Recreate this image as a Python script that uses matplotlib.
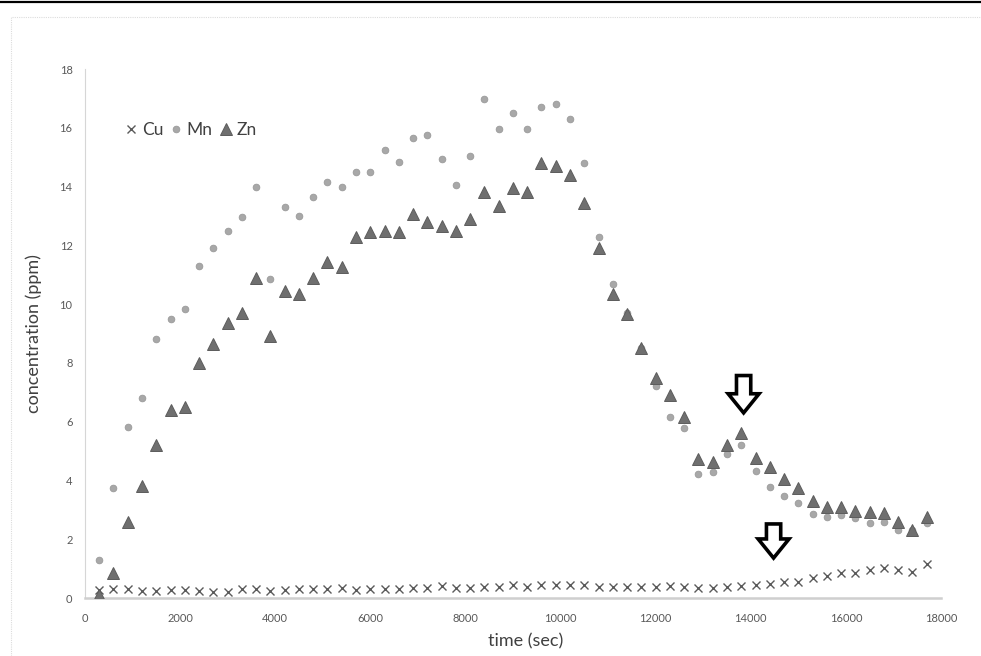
import matplotlib.pyplot as plt
from matplotlib.patches import FancyArrow, Rectangle
from matplotlib.lines import Line2D

# sampling times (sec)
time_sec = [300, 600, 900, 1200, 1500, 1800, 2100, 2400, 2700, 3000,
            3300, 3600, 3900, 4200, 4500, 4800, 5100, 5400, 5700, 6000,
            6300, 6600, 6900, 7200, 7500, 7800, 8100, 8400, 8700, 9000,
            9300, 9600, 9900, 10200, 10500, 10800, 11100, 11400, 11700, 12000,
            12300, 12600, 12900, 13200, 13500, 13800, 14100, 14400, 14700, 15000,
            15300, 15600, 15900, 16200, 16500, 16800, 17100, 17400, 17700]

# concentrations (ppm)
cu = [0.27, 0.30, 0.30, 0.25, 0.25, 0.26, 0.26, 0.25, 0.21, 0.22,
      0.32, 0.32, 0.25, 0.26, 0.30, 0.30, 0.30, 0.35, 0.27, 0.30,
      0.29, 0.29, 0.35, 0.35, 0.41, 0.35, 0.35, 0.38, 0.38, 0.44,
      0.38, 0.44, 0.44, 0.44, 0.44, 0.38, 0.38, 0.38, 0.38, 0.38,
      0.40, 0.39, 0.33, 0.33, 0.39, 0.42, 0.44, 0.48, 0.53, 0.56,
      0.69, 0.75, 0.86, 0.86, 0.94, 1.03, 0.94, 0.90, 1.15]

mn = [1.30, 3.75, 5.83, 6.80, 8.80, 9.50, 9.85, 11.30, 11.90, 12.50,
      12.95, 14.00, 10.85, 13.30, 13.00, 13.65, 14.15, 14.00, 14.50, 14.50,
      15.25, 14.85, 15.65, 15.75, 14.95, 14.05, 15.05, 16.98, 15.95, 16.50,
      15.95, 16.70, 16.80, 16.30, 14.80, 12.30, 10.67, 9.70, 8.50, 7.20,
      6.17, 5.80, 4.23, 4.30, 4.90, 5.20, 4.33, 3.78, 3.48, 3.23,
      2.86, 2.75, 2.83, 2.73, 2.56, 2.60, 2.30, 2.30, 2.56]

zn = [0.10, 0.85, 2.60, 3.80, 5.20, 6.40, 6.50, 8.00, 8.65, 9.35,
      9.70, 10.90, 8.90, 10.45, 10.35, 10.90, 11.45, 11.25, 12.30, 12.45,
      12.48, 12.44, 13.05, 12.80, 12.65, 12.48, 12.90, 13.80, 13.35, 13.95,
      13.80, 14.80, 14.70, 14.40, 13.45, 11.90, 10.36, 9.68, 8.50, 7.50,
      6.90, 6.17, 4.73, 4.64, 5.20, 5.62, 4.77, 4.45, 4.05, 3.75,
      3.30, 3.10, 3.10, 2.97, 2.93, 2.90, 2.60, 2.32, 2.76]

# arrows pointing at features: (time, top, tip)
arrows = [(13850, 7.57, 6.30), (14480, 2.52, 1.36)]

x_ticks = [0, 2000, 4000, 6000, 8000, 10000, 12000, 14000, 16000, 18000]
y_ticks = [0, 2, 4, 6, 8, 10, 12, 14, 16, 18]

plt.rcParams['font.family'] = ['Lato', 'DejaVu Sans']

fig = plt.figure(figsize=(9.81, 6.56), dpi=100)
ax = fig.add_axes([0.0866, 0.0884, 0.8726, 0.8064])

ax.plot(time_sec, cu, linestyle='none', marker='x', markersize=5.5,
        markeredgewidth=1.0, color='#5a5a5a', label='Cu', zorder=3)
ax.plot(time_sec, mn, linestyle='none', marker='o', markersize=4.8,
        markeredgewidth=0.6, markerfacecolor='#a8a8a8',
        markeredgecolor='#9a9a9a', label='Mn', zorder=4)
ax.plot(time_sec, zn, linestyle='none', marker='^', markersize=8.5,
        markeredgewidth=0.7, markerfacecolor='#6f6f6f',
        markeredgecolor='#5c5c5c', label='Zn', zorder=5)

# hollow block arrows
for t, top, tip in arrows:
    ax.add_patch(FancyArrow(t, top, 0, tip - top,
                            width=300, head_width=650, head_length=0.65,
                            length_includes_head=True, facecolor='white',
                            edgecolor='black', linewidth=2.6, zorder=6))

ax.set_xlim(0, 18000)
ax.set_ylim(0, 18)
ax.set_xticks(x_ticks)
ax.set_yticks(y_ticks)
ax.tick_params(length=0, labelsize=8, labelcolor='#595959')
ax.tick_params(axis='x', pad=11)
ax.tick_params(axis='y', pad=9)

for side in ('top', 'right'):
    ax.spines[side].set_visible(False)
ax.spines['left'].set_color('#d6d6d6')
ax.spines['left'].set_linewidth(0.8)
ax.spines['bottom'].set_color('#cfcfcf')
ax.spines['bottom'].set_linewidth(1.8)

ax.set_xlabel('time (sec)', fontsize=13, color='#404040')
ax.set_ylabel('concentration (ppm)', fontsize=13, color='#404040')
ax.xaxis.set_label_coords(0.515, -0.066)
ax.yaxis.set_label_coords(-0.05, 0.5)

ax.legend(loc='center left', bbox_to_anchor=(0.03, 0.885), ncol=3,
          frameon=False, fontsize=12.5, handlelength=0.6, handletextpad=0.3,
          columnspacing=0.45, labelcolor='#404040')

# page frame
fig.add_artist(Line2D([0, 1], [0.997, 0.997], color='black', linewidth=1.6,
                      transform=fig.transFigure))
fig.add_artist(Rectangle((0.011, -0.05), 1.05, 1.024, transform=fig.transFigure,
                         fill=False, edgecolor='#dcdcdc', linewidth=0.8,
                         linestyle=(0, (1, 1))))

fig.savefig('out.png', dpi=100)
